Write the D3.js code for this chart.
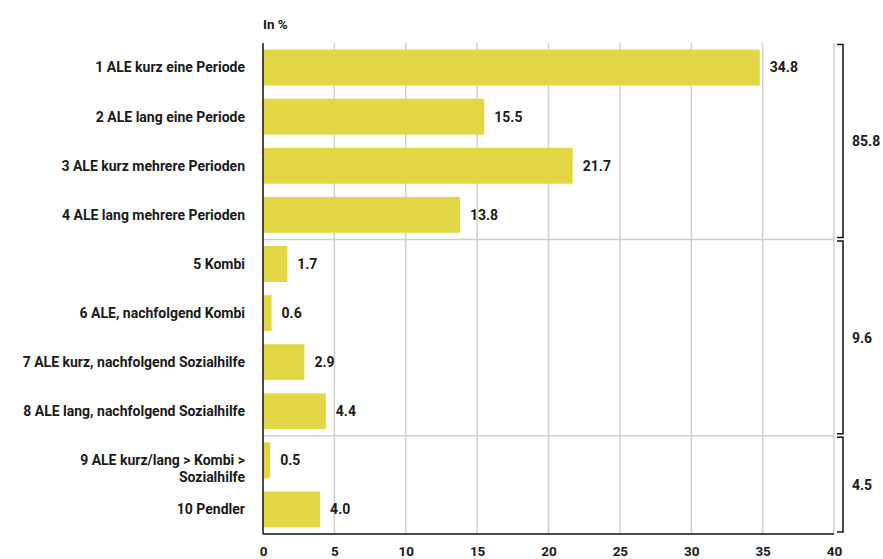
<!DOCTYPE html>
<html>
<head>
<meta charset="utf-8">
<script src="https://cdn.jsdelivr.net/npm/d3@7"></script>
<style>
  body { margin: 0; background: #fff; }
  text { font-family: Roboto, "Open Sans", sans-serif; font-weight: bold; fill: #1a1a1a; }
</style>
</head>
<body>
<svg id="chart" width="883" height="559"></svg>
<script>
// data
const categories = [
  "1 ALE kurz eine Periode",
  "2 ALE lang eine Periode",
  "3 ALE kurz mehrere Perioden",
  "4 ALE lang mehrere Perioden",
  "5 Kombi",
  "6 ALE, nachfolgend Kombi",
  "7 ALE kurz, nachfolgend Sozialhilfe",
  "8 ALE lang, nachfolgend Sozialhilfe",
  "9 ALE kurz/lang > Kombi >|Sozialhilfe",
  "10 Pendler"
];
const values = [34.8, 15.5, 21.7, 13.8, 1.7, 0.6, 2.9, 4.4, 0.5, 4.0];
const groupTotals = [85.8, 9.6, 4.5];
const groupRanges = [[0, 3], [4, 7], [8, 9]]; // first/last category index per group
const xTicks = [0, 5, 10, 15, 20, 25, 30, 35, 40];

const svg = d3.select('#chart');
const mLeft = 263, mRight = 834, mTop = 43, mBottom = 534;

let x = d3.scaleLinear().domain([0, 40]).range([mLeft, mRight]);
let y = d3.scaleBand().domain(d3.range(categories.length)).range([mTop, mBottom]).paddingInner(0.27).paddingOuter(0.135);

// vertical grid
svg.append('g').selectAll('line')
  .data(xTicks.slice(1))
  .enter().append('line')
  .attr('x1', d => x(d)).attr('x2', d => x(d))
  .attr('y1', mTop).attr('y2', mBottom)
  .attr('stroke', '#cfcfcf').attr('stroke-width', 1.5);

// horizontal separators between groups
const step = y.step();
svg.append('g').selectAll('line')
  .data(groupRanges.slice(1))
  .enter().append('line')
  .attr('x1', mLeft).attr('x2', mRight)
  .attr('y1', d => mTop + d[0] * step).attr('y2', d => mTop + d[0] * step)
  .attr('stroke', '#cfcfcf').attr('stroke-width', 1.5);

// bars
svg.append('g').selectAll('rect')
  .data(values)
  .enter().append('rect')
  .attr('x', x(0))
  .attr('y', (d, i) => y(i))
  .attr('width', d => x(d) - x(0))
  .attr('height', y.bandwidth())
  .attr('fill', '#e2d644');

// value labels
svg.append('g').selectAll('text')
  .data(values)
  .enter().append('text')
  .attr('x', d => x(d) + 10)
  .attr('y', (d, i) => y(i) + y.bandwidth() / 2)
  .attr('dy', '0.35em')
  .attr('font-size', 14)
  .text(d => d.toFixed(1));

// category labels (| splits lines)
let cat = svg.append('g').selectAll('text')
  .data(categories)
  .enter().append('text')
  .attr('x', 245)
  .attr('y', (d, i) => y(i) + y.bandwidth() / 2)
  .attr('text-anchor', 'end')
  .attr('font-size', 14);
cat.each(function (d) {
  const parts = d.split('|');
  const t = d3.select(this);
  parts.forEach((p, k) => {
    t.append('tspan').attr('x', 245).attr('dy', k === 0 ? '0.35em' : '1.2em').text(p);
  });
});

// axes lines
svg.append('line').attr('x1', mLeft).attr('x2', mLeft).attr('y1', mTop).attr('y2', mBottom)
  .attr('stroke', '#111').attr('stroke-width', 1.5);
svg.append('line').attr('x1', mLeft).attr('x2', mRight).attr('y1', mBottom).attr('y2', mBottom)
  .attr('stroke', '#111').attr('stroke-width', 1.5);

// bottom tick labels
let xAxis = d3.axisBottom(x).tickValues(xTicks).tickSize(0).tickPadding(0).tickFormat(d3.format('d'));
let ax = svg.append('g').attr('transform', 'translate(0,' + (mBottom + 12) + ')').call(xAxis);
ax.select('.domain').remove();
ax.selectAll('text').attr('font-size', 13.5).attr('dy', '0.71em').style('font-family', 'Roboto, sans-serif').style('font-weight', 'bold').attr('fill', '#1a1a1a');

// unit label
svg.append('text').attr('x', mLeft).attr('y', 29).attr('font-size', 13.5).text('In %');

// group brackets
const bx = 843;
let br = svg.append('g').selectAll('g')
  .data(groupRanges)
  .enter().append('g');
br.append('path')
  .attr('d', d => {
    const y0 = mTop + d[0] * step + 1.5, y1 = mTop + (d[1] + 1) * step - 2;
    return 'M' + (bx - 6) + ',' + y0 + 'H' + bx + 'V' + y1 + 'H' + (bx - 6);
  })
  .attr('fill', 'none').attr('stroke', '#111').attr('stroke-width', 1.5);
br.append('text')
  .attr('x', 852)
  .attr('y', d => mTop + (d[0] + d[1] + 1) / 2 * step)
  .attr('dy', '0.35em')
  .attr('font-size', 14)
  .text((d, i) => groupTotals[i].toFixed(1));
</script>
</body>
</html>
